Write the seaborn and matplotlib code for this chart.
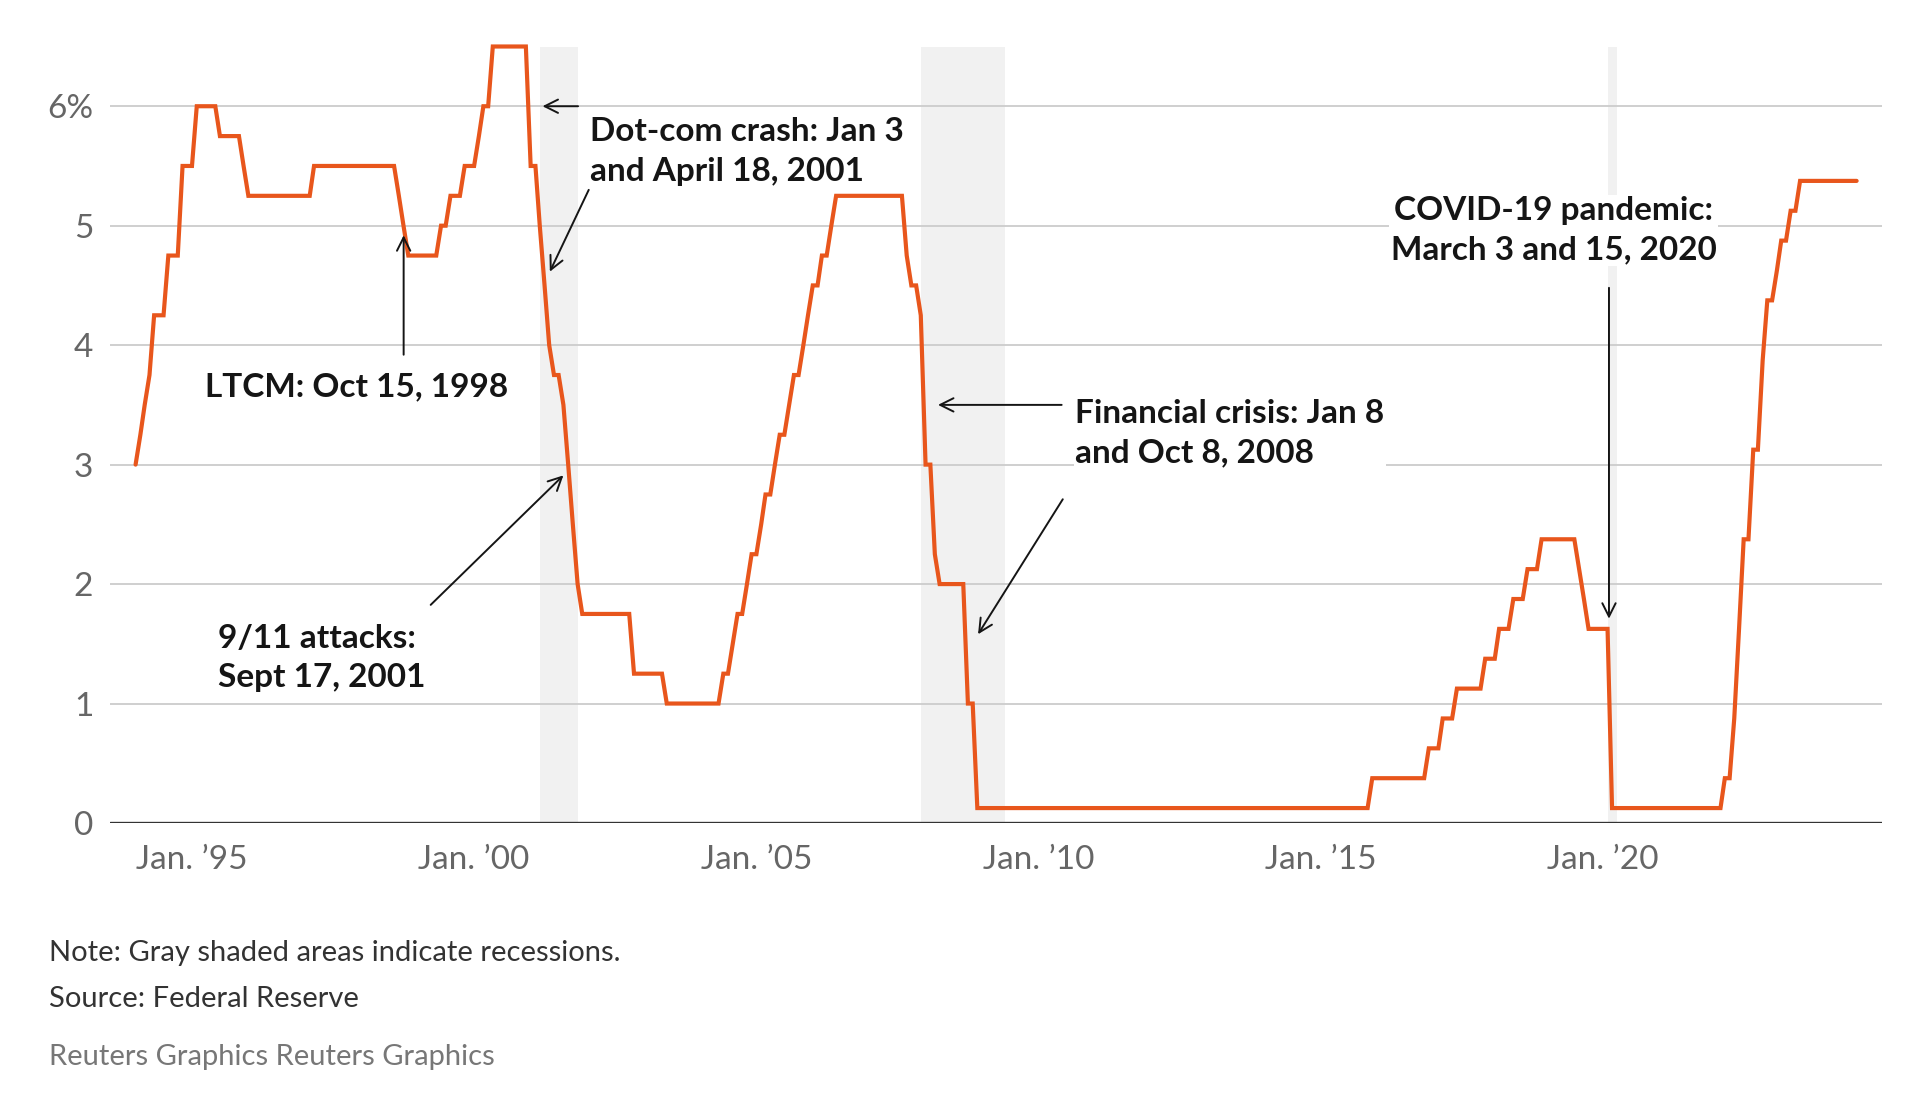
import numpy as np
import pandas as pd
import matplotlib
matplotlib.use("Agg")
import matplotlib.pyplot as plt
import matplotlib.dates as mdates
import seaborn as sns

# ---------------- data ----------------
# Fed funds target (midpoint of range after Dec 2008): effective date of change and new level
change_dates = [
    "1994-01-01", "1994-02-04", "1994-03-22", "1994-04-18", "1994-05-17", "1994-08-16", "1994-11-15",
    "1995-02-01", "1995-07-06", "1995-12-19", "1996-01-31", "1997-03-25",
    "1998-09-29", "1998-10-15", "1998-11-17", "1999-06-30", "1999-08-24", "1999-11-16",
    "2000-02-02", "2000-03-21", "2000-05-16",
    "2001-01-03", "2001-01-31", "2001-03-20", "2001-04-18", "2001-05-15", "2001-06-27",
    "2001-08-21", "2001-09-17", "2001-10-02", "2001-11-06", "2001-12-11",
    "2002-11-06", "2003-06-25",
    "2004-06-30", "2004-08-10", "2004-09-21", "2004-11-10", "2004-12-14",
    "2005-02-02", "2005-03-22", "2005-05-03", "2005-06-30", "2005-08-09", "2005-09-20",
    "2005-11-01", "2005-12-13", "2006-01-31", "2006-03-28", "2006-05-10", "2006-06-29",
    "2007-09-18", "2007-10-31", "2007-12-11",
    "2008-01-22", "2008-01-30", "2008-03-18", "2008-04-30", "2008-10-08", "2008-10-29", "2008-12-16",
    "2015-12-16", "2016-12-14", "2017-03-15", "2017-06-14", "2017-12-13",
    "2018-03-21", "2018-06-13", "2018-09-26", "2018-12-19",
    "2019-08-01", "2019-09-18", "2019-10-30", "2020-03-03", "2020-03-15",
    "2022-03-16", "2022-05-04", "2022-06-15", "2022-07-27", "2022-09-21", "2022-11-02", "2022-12-14",
    "2023-02-01", "2023-03-22", "2023-05-03", "2023-07-26",
]
target_rates = [
    3.00, 3.25, 3.50, 3.75, 4.25, 4.75, 5.50,
    6.00, 5.75, 5.50, 5.25, 5.50,
    5.25, 5.00, 4.75, 5.00, 5.25, 5.50,
    5.75, 6.00, 6.50,
    6.00, 5.50, 5.00, 4.50, 4.00, 3.75,
    3.50, 3.00, 2.50, 2.00, 1.75,
    1.25, 1.00,
    1.25, 1.50, 1.75, 2.00, 2.25,
    2.50, 2.75, 3.00, 3.25, 3.50, 3.75,
    4.00, 4.25, 4.50, 4.75, 5.00, 5.25,
    4.75, 4.50, 4.25,
    3.50, 3.00, 2.25, 2.00, 1.50, 1.00, 0.125,
    0.375, 0.625, 0.875, 1.125, 1.375,
    1.625, 1.875, 2.125, 2.375,
    2.125, 1.875, 1.625, 1.125, 0.125,
    0.375, 0.875, 1.625, 2.375, 3.125, 3.875, 4.375,
    4.625, 4.875, 5.125, 5.375,
]
series_start = "1994-01-01"
series_end = "2024-07-01"

recession_starts = ["2001-03-01", "2007-12-01", "2020-02-01"]
recession_ends = ["2001-11-01", "2009-06-01", "2020-04-01"]

ytick_values = [0, 1, 2, 3, 4, 5, 6]
ytick_labels = ["0", "1", "2", "3", "4", "5", "6%"]
xtick_dates = ["1995-01-01", "2000-01-01", "2005-01-01", "2010-01-01", "2015-01-01", "2020-01-01"]
xtick_labels = ["Jan. \u201995", "Jan. \u201900", "Jan. \u201905", "Jan. \u201910", "Jan. \u201915", "Jan. \u201920"]

# monthly observations: level in effect at month end, dated at month start
changes = pd.DataFrame({"date": pd.to_datetime(change_dates), "rate": target_rates}).sort_values("date")
months = pd.date_range(series_start, series_end, freq="MS")
obs = pd.DataFrame({"month": months, "date": months + pd.offsets.MonthEnd(0)})
monthly = pd.merge_asof(obs, changes, on="date")
df = pd.DataFrame({"month": monthly["month"], "rate": monthly["rate"]})

# ---------------- style ----------------
sns.set_style("white")
plt.rcParams["font.family"] = ["Lato", "DejaVu Sans"]

LINE = "#E8561C"
W, H = 1920, 1096
fig = plt.figure(figsize=(W / 100, H / 100), dpi=100)
ax = fig.add_axes([110 / W, 1 - 823 / H, (1882 - 110) / W, (823 - 46.5) / H])


def dy(y):
    yi = int(np.floor(y))
    return mdates.date2num(pd.Timestamp(f"{yi}-01-01") + pd.Timedelta(days=(y - yi) * 365.25))


for s, e in zip(recession_starts, recession_ends):
    ax.axvspan(pd.Timestamp(s), pd.Timestamp(e), color="#f1f1f1", zorder=0.2, lw=0)

for v in ytick_values[1:]:
    ax.axhline(v, color="#cfcfcf", lw=1.4, zorder=0.5)
ax.axhline(0, color="#333333", lw=2.4, zorder=3)

sns.lineplot(data=df, x="month", y="rate", ax=ax, color=LINE, lw=3.0,
             clip_on=False, zorder=4, solid_joinstyle="miter")

ax.set_xlim(dy(1993.546), dy(2024.948))
ax.set_ylim(0, 6.5)
for sp in ax.spines.values():
    sp.set_visible(False)
ax.set_xlabel("")
ax.set_ylabel("")

ax.set_yticks(ytick_values)
ax.set_yticklabels(ytick_labels)
ax.set_xticks(pd.to_datetime(xtick_dates))
ax.set_xticklabels(xtick_labels)
ax.tick_params(axis="both", length=0, labelsize=24, labelcolor="#666666")
ax.tick_params(axis="y", pad=12)
ax.tick_params(axis="x", pad=16)

# ---------------- annotations ----------------
TXT = dict(fontsize=24, fontweight="bold", color="#151515", linespacing=1.44, zorder=6)
BOX = dict(facecolor="white", edgecolor="none", pad=1.0)
ARR = dict(arrowstyle="->", color="#151515", lw=1.4, shrinkA=0, shrinkB=0, mutation_scale=24)


def arrow(tail, head):
    ax.annotate("", xy=(dy(head[0]), head[1]), xytext=(dy(tail[0]), tail[1]),
                arrowprops=ARR, zorder=5, annotation_clip=False)


ax.text(dy(1997.91), 3.65, "LTCM: Oct 15, 1998", ha="center", va="center", bbox=BOX, **TXT)
arrow((1998.75, 3.92), (1998.75, 4.92))

ax.text(dy(2002.05), 5.62, "Dot-com crash: Jan 3\nand April 18, 2001", ha="left", va="center",
        bbox=BOX, **TXT)
arrow((2001.84, 6.0), (2001.21, 6.0))
arrow((2002.03, 5.30), (2001.34, 4.615))

ax.text(dy(1995.46), 1.38, "9/11 attacks:\nSept 17, 2001", ha="left", va="center", bbox=BOX, **TXT)
arrow((1999.23, 1.826), (2001.58, 2.91))

ax.text(dy(2010.65), 3.265, "Financial crisis: Jan 8\nand Oct 8, 2008", ha="left", va="center",
        bbox=BOX, **TXT)
arrow((2010.41, 3.50), (2008.22, 3.50))
arrow((2010.43, 2.71), (2008.93, 1.58))

ax.text(dy(2019.13), 4.96, "COVID-19 pandemic:\nMarch 3 and 15, 2020", ha="center", va="center",
        multialignment="center", bbox=BOX, **TXT)
arrow((2020.11, 4.48), (2020.11, 1.71))

# ---------------- footer ----------------
fig.text(49 / W, 1 - 953 / H, "Note: Gray shaded areas indicate recessions.", fontsize=21,
         color="#333333", va="center", ha="left")
fig.text(49 / W, 1 - 999 / H, "Source: Federal Reserve", fontsize=21,
         color="#333333", va="center", ha="left")
fig.text(49 / W, 1 - 1057 / H, "Reuters Graphics Reuters Graphics", fontsize=21,
         color="#777777", va="center", ha="left")

fig.savefig("out.png", dpi=100, facecolor="white")
